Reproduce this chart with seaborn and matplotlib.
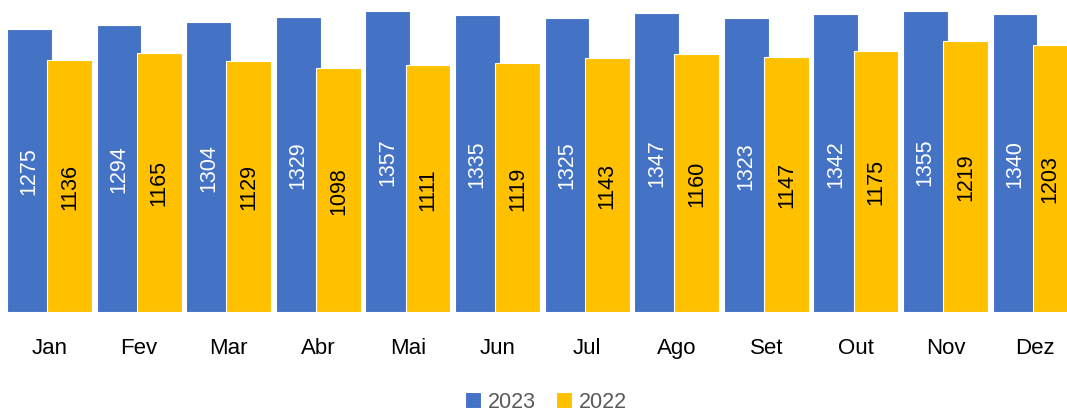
import matplotlib
matplotlib.use('Agg')
import matplotlib.pyplot as plt
import pandas as pd
import seaborn as sns

# data
months = ['Jan', 'Fev', 'Mar', 'Abr', 'Mai', 'Jun', 'Jul', 'Ago', 'Set', 'Out', 'Nov', 'Dez']
vals_2023 = [1275, 1294, 1304, 1329, 1357, 1335, 1325, 1347, 1323, 1342, 1355, 1340]
vals_2022 = [1136, 1165, 1129, 1098, 1111, 1119, 1143, 1160, 1147, 1175, 1219, 1203]
years = ['2023', '2022']
colors = ['#4472C4', '#FFC000']

df = pd.DataFrame({
    'mes': months * 2,
    'valor': vals_2023 + vals_2022,
    'ano': ['2023'] * len(months) + ['2022'] * len(months),
})

sns.set_style('white')
plt.rcParams['font.family'] = ['Liberation Sans', 'DejaVu Sans']

fig = plt.figure(figsize=(10.67, 4.14), dpi=100)
ax = fig.add_axes([0, 0.2447, 1, 0.7553])

sns.barplot(data=df, x='mes', y='valor', hue='ano', hue_order=years,
            palette=colors, width=0.95, edgecolor='white', linewidth=0.8,
            saturation=1, ax=ax)

# bars in the original overlap a little: widen them, keeping the outer edges
bw = 0.5
for i, cont in enumerate(ax.containers):
    for p in cont.patches:
        if i == 0:
            p.set_width(bw)
        else:
            right = p.get_x() + p.get_width()
            p.set_x(right - bw)
            p.set_width(bw)

# value labels, rotated, in the middle of each bar
for cont, col in zip(ax.containers, ['white', 'black']):
    ax.bar_label(cont, label_type='center', rotation=90, color=col, fontsize=15.5)

ax.set_xlim(-0.552, 11.356)
ax.set_ylim(0, 1409)
ax.set_xlabel('')
ax.set_ylabel('')
ax.set_yticks([])
ax.tick_params(axis='x', length=0, pad=18, labelsize=16, labelcolor='black')
sns.despine(ax=ax, left=True, bottom=True)

handles, labels = ax.get_legend_handles_labels()
ax.legend_.remove()
leg = fig.legend(handles, labels, loc='center', bbox_to_anchor=(546 / 1067, 1 - 403 / 414),
                 ncol=2, frameon=False, fontsize=15.5, handlelength=0.75, handleheight=0.75,
                 handletextpad=0.35, columnspacing=0.9)
for t in leg.get_texts():
    t.set_color('#595959')

fig.savefig('out.png', dpi=100)
